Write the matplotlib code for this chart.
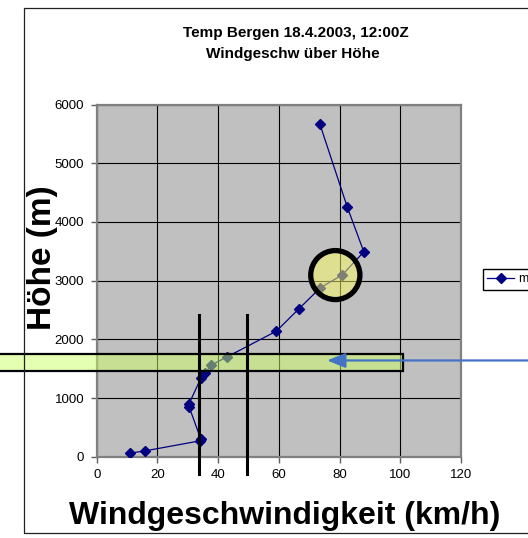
import numpy as np
import matplotlib
matplotlib.use("Agg")
import matplotlib.pyplot as plt
from matplotlib.patches import Rectangle, Ellipse

plt.rcParams['font.family'] = ['Liberation Sans', 'DejaVu Sans']

# Wind speed (km/h) over height (m)
speed = [11.0, 16.0, 34.0, 34.3, 30.5, 30.3, 34.3, 35.8, 37.7, 42.9,
         59.2, 66.5, 73.7, 80.8, 88.0, 82.5, 73.5]
height = [60, 100, 270, 300, 840, 890, 1335, 1425, 1560, 1700,
          2140, 2515, 2880, 3095, 3490, 4260, 5670]
series_name = "m"

x_ticks = [0, 20, 40, 60, 80, 100, 120]
y_ticks = [0, 1000, 2000, 3000, 4000, 5000, 6000]

W, H = 528, 538
fig = plt.figure(figsize=(W / 100, H / 100), dpi=100)
fig.patch.set_facecolor('white')

# outer chart frame (runs off the right edge)
fig.patches.append(Rectangle((24 / W, 5 / H), 1.2, 525 / H, transform=fig.transFigure,
                             fill=False, edgecolor='#202020', linewidth=0.9))

ax = fig.add_axes([96.7 / W, 1 - 456.7 / H, (461 - 96.7) / W, (456.7 - 104.6) / H])
ax.set_facecolor('#c0c0c0')
ax.set_xlim(0, 120)
ax.set_ylim(0, 6000)
ax.set_xticks(x_ticks)
ax.set_yticks(y_ticks)
ax.tick_params(labelsize=9.5, length=4, width=1, color='#606060', direction='out', pad=5)
ax.set_axisbelow(True)
ax.grid(True, color='black', linewidth=0.8)
for s in ax.spines.values():
    s.set_color('#808080')
    s.set_linewidth(1.6)

line, = ax.plot(speed, height, color='#000080', linewidth=0.9, marker='D',
                markersize=5, zorder=3, label=series_name)

# highlight band at ~1500-1750 m
ax.add_patch(Rectangle((-40, 1465), 141, 280, facecolor='#ccff66', alpha=0.5,
                       edgecolor='none', zorder=4, clip_on=False))
ax.add_patch(Rectangle((-40, 1465), 141, 280, facecolor='none',
                       edgecolor='black', linewidth=1.6, zorder=5, clip_on=False))

# vertical marker lines
for xv in [33.8, 49.6]:
    ax.plot([xv, xv], [-295, 2415], color='black', linewidth=2.2, zorder=6, clip_on=False)

# circle highlight
ax.add_patch(Ellipse((78.6, 3095), 16.2, 835, facecolor='#ffff66', alpha=0.5,
                     edgecolor='none', zorder=4))
ax.add_patch(Ellipse((78.6, 3095), 16.2, 835, facecolor='none',
                     edgecolor='black', linewidth=3.8, zorder=5))

# arrow pointing into the band
ax.annotate('', xy=(75, 1640), xytext=(160, 1640), annotation_clip=False,
            arrowprops=dict(arrowstyle='-|>,head_length=1.1,head_width=0.45',
                            color='#4472c4', linewidth=1.6), zorder=7)

fig.text(296 / W, 1 - 33 / H, "Temp Bergen 18.4.2003, 12:00Z", ha='center', va='center',
         fontsize=11, fontweight='bold')
fig.text(293 / W, 1 - 54 / H, "Windgeschw über Höhe", ha='center', va='center',
         fontsize=11, fontweight='bold')
fig.text(42 / W, 1 - 258 / H, "Höhe (m)", rotation=90, ha='center', va='center',
         fontsize=24, fontweight='bold')
fig.text(285 / W, 1 - 516 / H, "Windgeschwindigkeit (km/h)", ha='center', va='center',
         fontsize=23, fontweight='bold')

fig.legend([line], [series_name], loc='upper left', bbox_to_anchor=(483 / W, 1 - 269 / H),
           bbox_transform=fig.transFigure, fontsize=9, frameon=True, fancybox=False,
           edgecolor='black', framealpha=1, borderaxespad=0, borderpad=0.35,
           handlelength=2.1, handletextpad=0.4)

fig.savefig('out.png', dpi=100)
